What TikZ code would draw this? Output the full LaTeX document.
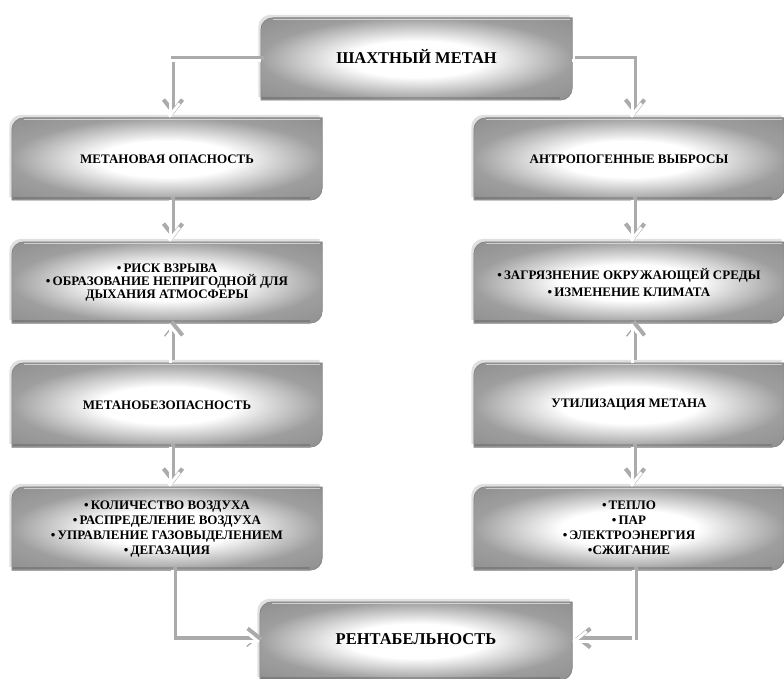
\documentclass[tikz,border=0pt]{standalone}
\usepackage{fontspec}
\setmainfont{Liberation Serif}
\usetikzlibrary{arrows.meta,backgrounds,calc}
\pgfdeclareradialshading{boxrad}{\pgfpoint{0bp}{0bp}}{color(0bp)=(white); color(11bp)=(white); color(25bp)=(black!38); color(50bp)=(black!52)}
\newlength\rr \setlength\rr{12pt}
\newcommand\boxpath[1]{(#1.south west) -- ([yshift=-\rr]#1.north west) arc[start angle=180,end angle=90,radius=\rr] -- (#1.north east) -- ([yshift=\rr]#1.south east) arc[start angle=0,end angle=-90,radius=\rr] -- cycle}
\newcommand\boxshape[1]{%
  \path[fill=black,opacity=.12,transform canvas={xshift=-2.5pt,yshift=3pt}] \boxpath{#1};
  \path[shading=boxrad, draw=black!50, line width=.6pt] \boxpath{#1};
  \draw[white, opacity=.55, line width=1.2pt] ([xshift=\rr,yshift=-2pt]#1.north west) -- ([xshift=-2pt,yshift=-2pt]#1.north east);
  \draw[black, opacity=.15, line width=2pt] ([xshift=1.5pt,yshift=2pt]#1.south west) -- ([xshift=-\rr,yshift=2pt]#1.south east);
}
\newcommand\shifted[2]{\raisebox{#1}{\begin{tabular}{@{}c@{}}#2\end{tabular}}}
\tikzset{
  bx/.style={minimum width=310pt, minimum height=82pt, inner sep=0pt, align=center,
    font=\bfseries\fontsize{13}{14}\selectfont},
  bigbx/.style={bx, font=\bfseries\fontsize{16.5}{18}\selectfont},
  tip/.style={-{Straight Barb[length=12pt,width=19pt]}},
  conn/.style={draw=white, line width=3pt, tip,
    preaction={draw=black!33, line width=4pt, tip,
      transform canvas={xshift=3pt,yshift=3pt}}}
}
\begin{document}
\begin{tikzpicture}[x=1pt,y=-1pt]
\useasboundingbox (0,0) rectangle (784,679);
\node[bigbx, minimum width=311pt, minimum height=82pt] (top) at (416.5,59) {\shifted{-3pt}{ШАХТНЫЙ МЕТАН}};
\node[bx] (L1) at (167,159) {МЕТАНОВАЯ ОПАСНОСТЬ};
\node[bx, minimum height=81pt, font=\bfseries\fontsize{13}{13}\selectfont] (L2) at (167,282.5) {•\,РИСК ВЗРЫВА\\ •\,ОБРАЗОВАНИЕ НЕПРИГОДНОЙ ДЛЯ\\ ДЫХАНИЯ АТМОСФЕРЫ};
\node[bx, minimum height=84pt] (L3) at (167,405) {МЕТАНОБЕЗОПАСНОСТЬ};
\node[bx, minimum height=83pt, font=\bfseries\fontsize{13}{15}\selectfont] (L4) at (167,528.5) {\shifted{-3pt}{•\,КОЛИЧЕСТВО ВОЗДУХА\\ •\,РАСПРЕДЕЛЕНИЕ ВОЗДУХА\\ •\,УПРАВЛЕНИЕ ГАЗОВЫДЕЛЕНИЕМ\\ •\,ДЕГАЗАЦИЯ}};
\node[bx] (R1) at (629,159) {АНТРОПОГЕННЫЕ ВЫБРОСЫ};
\node[bx, minimum height=81pt, font=\bfseries\fontsize{13}{16.5}\selectfont] (R2) at (629,282.5) {•\,ЗАГРЯЗНЕНИЕ ОКРУЖАЮЩЕЙ СРЕДЫ\\ •\,ИЗМЕНЕНИЕ КЛИМАТА};
\node[bx, minimum height=84pt] (R3) at (629,405) {УТИЛИЗАЦИЯ МЕТАНА};
\node[bx, minimum height=83pt, font=\bfseries\fontsize{13}{15}\selectfont] (R4) at (629,528.5) {\shifted{-2pt}{•\,ТЕПЛО\\ •\,ПАР\\ •\,ЭЛЕКТРОЭНЕРГИЯ\\ •СЖИГАНИЕ}};
\node[bigbx, minimum width=312pt, minimum height=78pt] (bot) at (416,641) {\shifted{-4pt}{РЕНТАБЕЛЬНОСТЬ}};
\begin{scope}[on background layer]
  \foreach \n in {top,L1,L2,L3,L4,R1,R2,R3,R4,bot} {\boxshape{\n}}
\end{scope}
\draw[conn] ([yshift=-2pt]top.west) -| ([xshift=3pt]L1.north);
\draw[conn] ([yshift=-2pt]top.east) -| ([xshift=3pt]R1.north);
\draw[conn] ([xshift=3pt]L1.south) -- ([xshift=3pt]L2.north);
\draw[conn] ([xshift=3pt]R1.south) -- ([xshift=3pt]R2.north);
\draw[conn] ([xshift=3pt]L3.north) -- ([xshift=3pt]L2.south);
\draw[conn] ([xshift=3pt]R3.north) -- ([xshift=3pt]R2.south);
\draw[conn] ([xshift=3pt]L3.south) -- ([xshift=3pt]L4.north);
\draw[conn] ([xshift=3pt]R3.south) -- ([xshift=3pt]R4.north);
\draw[conn] ([xshift=5pt]L4.south) |- (bot.west);
\draw[conn] ([xshift=4pt]R4.south) |- (bot.east);
\end{tikzpicture}
\end{document}
